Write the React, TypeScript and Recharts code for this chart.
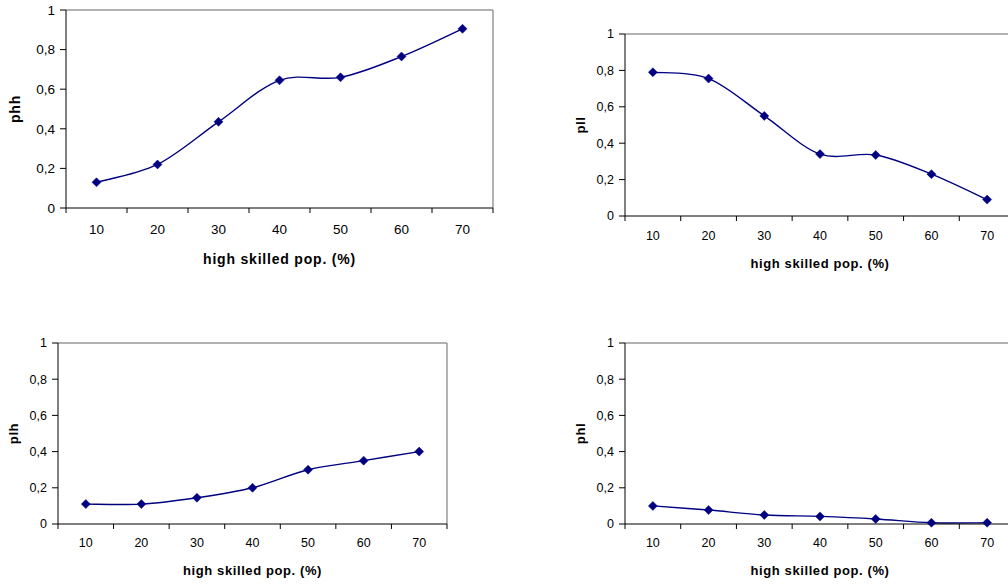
import React from 'react';
import { LineChart, Line, XAxis, YAxis, ReferenceLine } from 'recharts';

// high skilled population share (%), one point per category
const skillShares = [10, 20, 30, 40, 50, 60, 70];
const yTicks = [0, 0.2, 0.4, 0.6, 0.8, 1];

// probabilities
const phh = [0.13, 0.22, 0.435, 0.645, 0.66, 0.765, 0.905];
const pll = [0.79, 0.755, 0.55, 0.34, 0.335, 0.23, 0.09];
const plh = [0.11, 0.11, 0.145, 0.2, 0.3, 0.35, 0.4];
const phl = [0.1, 0.077, 0.05, 0.042, 0.028, 0.007, 0.007];

const xTitle = 'high skilled pop. (%)';
const NAVY = '#000080';
const FONT = '"Liberation Sans", Arial, sans-serif';

// tick marks sit between the categories, labels on them
const xBounds = [skillShares[0] - 5, ...skillShares.map((v) => v + 5)];
const xTickValues = [...xBounds, ...skillShares].sort((a, b) => a - b);

// Excel-like smoothed line (Catmull-Rom through the points)
const excelCurve = (ctx: any) => {
  let pts: number[][] = [];
  return {
    areaStart() {},
    areaEnd() {},
    lineStart() {
      pts = [];
    },
    point(x: number, y: number) {
      pts.push([+x, +y]);
    },
    lineEnd() {
      if (!pts.length) return;
      ctx.moveTo(pts[0][0], pts[0][1]);
      for (let i = 0; i < pts.length - 1; i++) {
        const p0 = pts[Math.max(i - 1, 0)];
        const p1 = pts[i];
        const p2 = pts[i + 1];
        const p3 = pts[Math.min(i + 2, pts.length - 1)];
        ctx.bezierCurveTo(
          p1[0] + (p2[0] - p0[0]) / 6,
          p1[1] + (p2[1] - p0[1]) / 6,
          p2[0] - (p3[0] - p1[0]) / 6,
          p2[1] - (p3[1] - p1[1]) / 6,
          p2[0],
          p2[1]
        );
      }
    },
  };
};

const Diamond = (props: any) => {
  const { cx, cy, index } = props;
  if (cx == null || cy == null) return <g key={index} />;
  const r = 4.5;
  return (
    <polygon
      key={index}
      points={`${cx},${cy - r} ${cx + r},${cy} ${cx},${cy + r} ${cx - r},${cy}`}
      fill={NAVY}
      stroke={NAVY}
      strokeWidth={0.5}
    />
  );
};

interface PanelProps {
  values: number[];
  yLabel: string;
  left: number;
  top: number;
  width: number;
  height: number;
  margin: { top: number; right: number; bottom: number; left: number };
  yAxisWidth: number;
  xAxisHeight: number;
  tickFont: number;
  titleFont: number;
  titleSpacing: number;
  tickOffset: number;
  titleOffset: number;
  yTitleX: number;
}

function Panel(p: PanelProps) {
  const data = skillShares.map((x, i) => ({ x, v: p.values[i] }));

  const XTick = ({ x, y, payload }: any) => {
    const v = payload.value;
    if (v % 10 !== 0) {
      return <line x1={x} x2={x} y1={y} y2={y + 5} stroke="#000" strokeWidth={1} />;
    }
    return (
      <text
        x={x}
        y={y + p.tickOffset}
        textAnchor="middle"
        dominantBaseline="central"
        fontSize={p.tickFont}
        fontFamily={FONT}
        fill="#000"
      >
        {v}
      </text>
    );
  };

  return (
    <div style={{ position: 'absolute', left: p.left, top: p.top }}>
      <LineChart width={p.width} height={p.height} data={data} margin={p.margin}>
        <XAxis
          dataKey="x"
          type="number"
          domain={[xBounds[0], xBounds[xBounds.length - 1]]}
          ticks={xTickValues}
          interval={0}
          height={p.xAxisHeight}
          tickLine={false}
          tickSize={0}
          tickMargin={0}
          tick={<XTick />}
          axisLine={{ stroke: '#000', strokeWidth: 1 }}
          label={(lp: any) => {
            const vb = lp.viewBox;
            return (
              <text
                x={vb.x + vb.width / 2}
                y={vb.y + p.titleOffset}
                textAnchor="middle"
                dominantBaseline="central"
                fontSize={p.titleFont}
                fontWeight="bold"
                letterSpacing={p.titleSpacing}
                fontFamily={FONT}
                fill="#000"
              >
                {xTitle}
              </text>
            );
          }}
        />
        <YAxis
          type="number"
          domain={[0, 1]}
          ticks={yTicks}
          interval={0}
          width={p.yAxisWidth}
          tickSize={6}
          tickMargin={5}
          tickFormatter={(v: number) => String(v).replace('.', ',')}
          tick={{ fontSize: p.tickFont, fill: '#000', fontFamily: FONT }}
          tickLine={{ stroke: '#000' }}
          axisLine={{ stroke: '#000', strokeWidth: 1 }}
          label={(lp: any) => {
            const vb = lp.viewBox;
            const cy = vb.y + vb.height / 2;
            return (
              <text
                x={p.yTitleX}
                y={cy}
                transform={`rotate(-90 ${p.yTitleX} ${cy})`}
                textAnchor="middle"
                dominantBaseline="central"
                fontSize={p.titleFont}
                fontWeight="bold"
                letterSpacing={p.titleSpacing}
                fontFamily={FONT}
                fill="#000"
              >
                {p.yLabel}
              </text>
            );
          }}
        />
        <ReferenceLine y={1} stroke="#999" strokeWidth={1.5} />
        <ReferenceLine x={xBounds[xBounds.length - 1]} stroke="#999" strokeWidth={1.5} />
        <Line
          dataKey="v"
          type={excelCurve as any}
          stroke={NAVY}
          strokeWidth={1.4}
          dot={Diamond}
          activeDot={false}
          isAnimationActive={false}
        />
      </LineChart>
    </div>
  );
}

export default function App() {
  return (
    <div
      style={{
        position: 'absolute',
        left: 0,
        top: 0,
        width: 1008,
        height: 584,
        overflow: 'hidden',
        background: '#fff',
      }}
    >
      <Panel
        values={phh}
        yLabel="phh"
        left={0}
        top={0}
        width={500}
        height={280}
        margin={{ top: 10, right: 7, bottom: 0, left: 0 }}
        yAxisWidth={66}
        xAxisHeight={72}
        tickFont={13.5}
        titleFont={14}
        titleSpacing={0.8}
        tickOffset={21}
        titleOffset={51}
        yTitleX={15}
      />
      <Panel
        values={pll}
        yLabel="pll"
        left={500}
        top={0}
        width={520}
        height={300}
        margin={{ top: 34, right: 5, bottom: 0, left: 0 }}
        yAxisWidth={125}
        xAxisHeight={84}
        tickFont={12.5}
        titleFont={13}
        titleSpacing={0.6}
        tickOffset={19.5}
        titleOffset={47}
        yTitleX={80}
      />
      <Panel
        values={plh}
        yLabel="plh"
        left={0}
        top={300}
        width={460}
        height={284}
        margin={{ top: 43, right: 13, bottom: 0, left: 0 }}
        yAxisWidth={58}
        xAxisHeight={60}
        tickFont={12.5}
        titleFont={13}
        titleSpacing={0.6}
        tickOffset={19}
        titleOffset={46.5}
        yTitleX={13}
      />
      <Panel
        values={phl}
        yLabel="phl"
        left={500}
        top={300}
        width={520}
        height={284}
        margin={{ top: 43, right: 5, bottom: 0, left: 0 }}
        yAxisWidth={125}
        xAxisHeight={60}
        tickFont={12.5}
        titleFont={13}
        titleSpacing={0.6}
        tickOffset={19}
        titleOffset={46.5}
        yTitleX={80}
      />
    </div>
  );
}
